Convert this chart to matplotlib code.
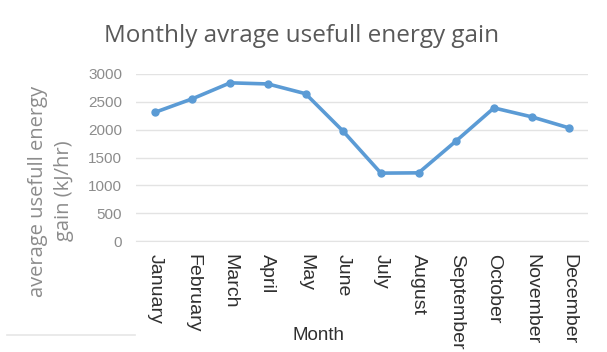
import matplotlib
matplotlib.use("Agg")
import matplotlib.pyplot as plt
from matplotlib.lines import Line2D

months = ["January", "February", "March", "April", "May", "June", "July",
          "August", "September", "October", "November", "December"]
energy_gain = [2310, 2555, 2840, 2820, 2645, 1970, 1220, 1225, 1800, 2390, 2230, 2030]
y_ticks = [0, 500, 1000, 1500, 2000, 2500, 3000]

fig = plt.figure(figsize=(6.07, 3.52), dpi=100)
ax = fig.add_axes([0.224, 0.315, 0.745, 0.475])

x = list(range(len(months)))
ax.plot(x, energy_gain, color="#5B9BD5", linewidth=2.6, marker="o",
        markersize=5, markerfacecolor="#5B9BD5", markeredgecolor="#5B9BD5",
        solid_joinstyle="round", zorder=3)

ax.set_xlim(-0.5, len(months) - 0.5)
ax.set_ylim(0, 3000)
ax.set_yticks(y_ticks)
ax.set_yticklabels([str(v) for v in y_ticks], fontsize=11, color="#8c8c8c",
                   family="Liberation Sans")
ax.set_xticks(x)
ax.set_xticklabels(months, rotation=270, fontsize=14, color="#303030",
                   family="Liberation Sans", va="top", ha="center")

ax.grid(axis="y", color="#e3e3e3", linewidth=1.0)
ax.set_axisbelow(True)
ax.tick_params(axis="both", length=0)
ax.tick_params(axis="y", pad=10)
ax.tick_params(axis="x", pad=9)
for side in ["top", "right", "left"]:
    ax.spines[side].set_visible(False)
ax.spines["bottom"].set_color("#e3e3e3")

fig.text(319 / 607, 1 - 336 / 352, "Month", ha="center", va="center",
         fontsize=13.5, color="#303030", family="Liberation Sans")
fig.text(51 / 607, 1 - 191 / 352, "average usefull energy\ngain (kJ/hr)",
         rotation=90, ha="center", va="center", multialignment="center",
         fontsize=14.5, color="#8c8c8c", family="Open Sans", linespacing=1.35)

fig.text(302 / 607, 1 - 42 / 352, "Monthly avrage usefull energy gain",
         ha="center", va="baseline", fontsize=17.5, color="#595959",
         family="Open Sans")

fig.add_artist(Line2D([0.012, 0.222], [1 - 335 / 352, 1 - 335 / 352],
                      transform=fig.transFigure, color="#e6e6e6", linewidth=1.2))

fig.savefig("out.png", dpi=100, facecolor="white")
